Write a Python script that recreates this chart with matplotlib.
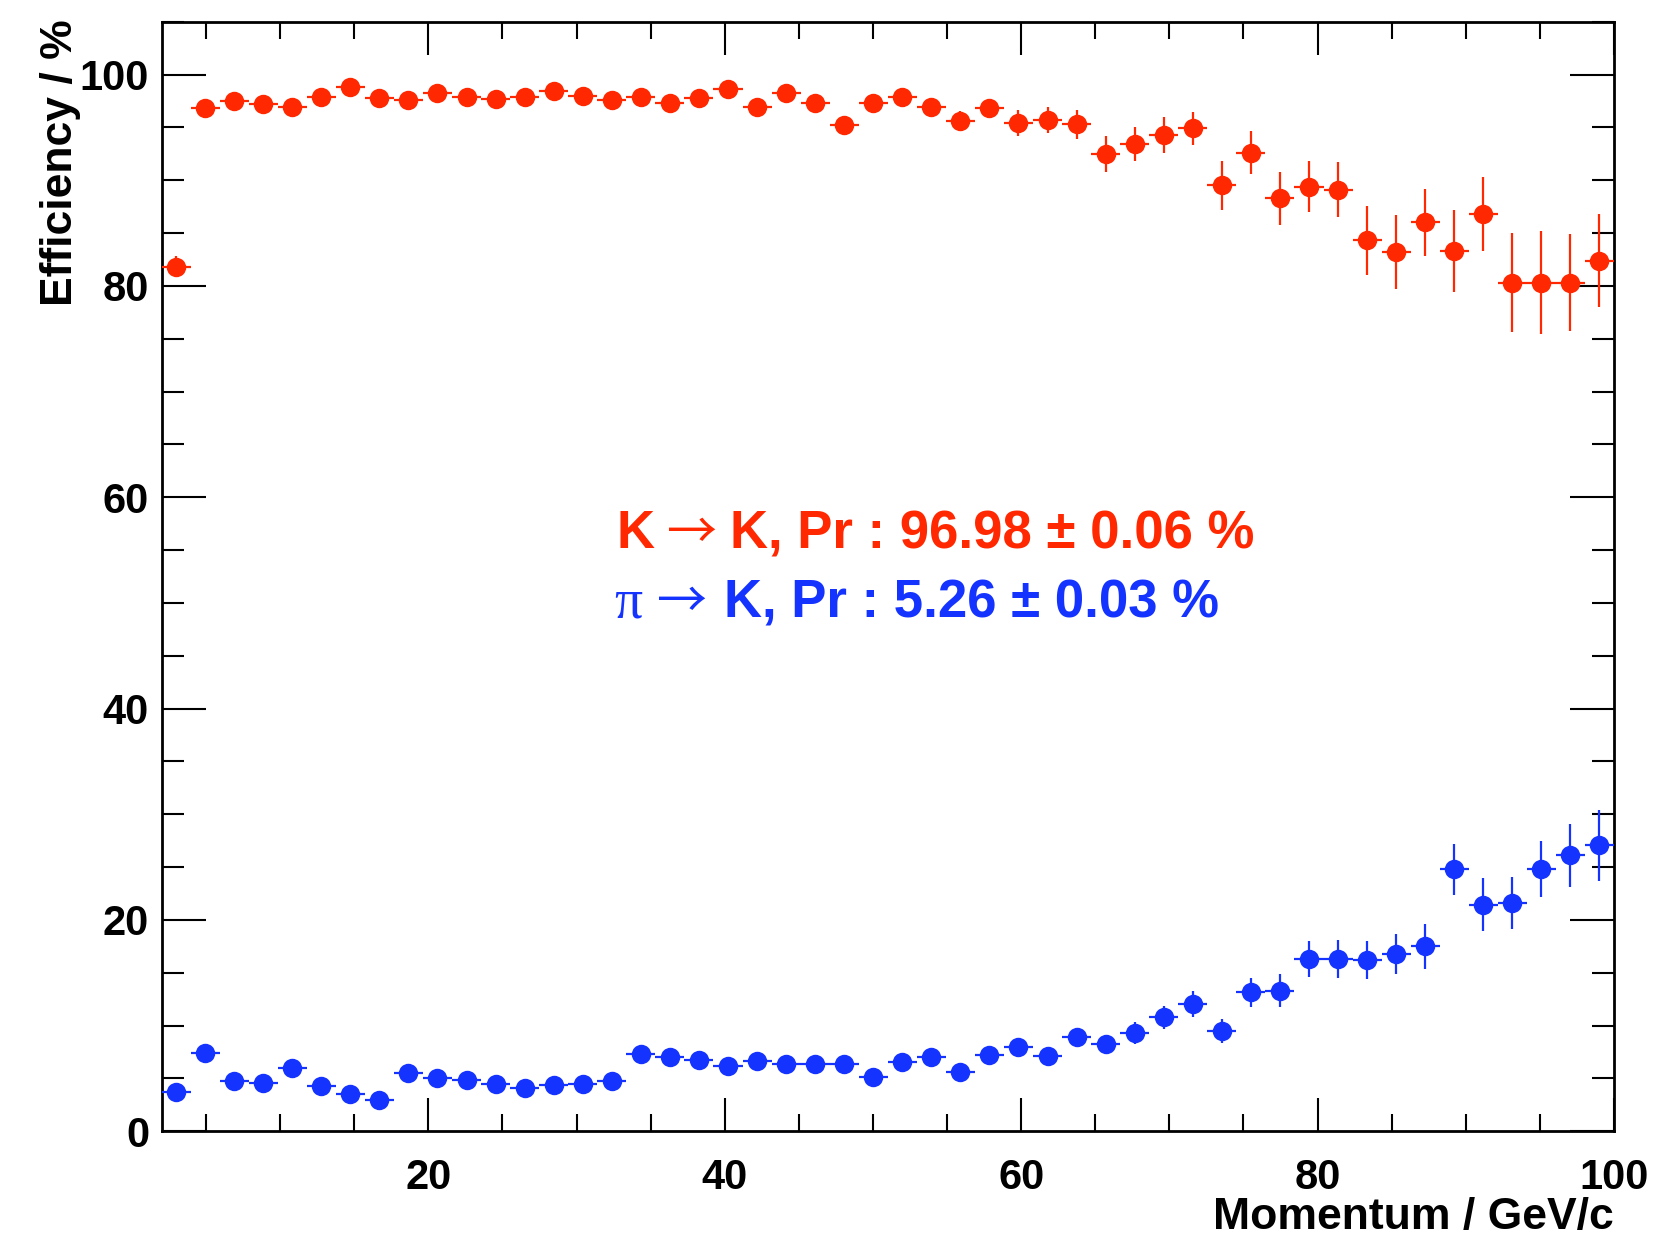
import numpy as np
import matplotlib
matplotlib.use('Agg')
import matplotlib.pyplot as plt
from matplotlib.ticker import MultipleLocator

# ---------------- data ----------------
momentum_min = 2.0
momentum_max = 100.0
n_bins = 50

kaon_eff = [81.8, 96.8, 97.5, 97.2, 96.9, 97.9, 98.8, 97.8, 97.6, 98.3,
            97.9, 97.7, 97.9, 98.4, 98.0, 97.6, 97.9, 97.3, 97.8, 98.6,
            96.9, 98.3, 97.3, 95.2, 97.3, 97.9, 96.9, 95.6, 96.8, 95.4,
            95.7, 95.3, 92.5, 93.4, 94.3, 94.9, 89.5, 92.6, 88.3, 89.4,
            89.1, 84.3, 83.2, 86.0, 83.3, 86.8, 80.3, 80.3, 80.3, 82.4]
kaon_err = [1.0, 0.5, 0.4, 0.4, 0.4, 0.4, 0.35, 0.4, 0.4, 0.4,
            0.4, 0.4, 0.45, 0.4, 0.45, 0.45, 0.45, 0.5, 0.5, 0.45,
            0.55, 0.5, 0.6, 0.8, 0.7, 0.75, 0.8, 0.95, 0.88, 1.23,
            1.21, 1.37, 1.7, 1.6, 1.7, 1.6, 2.3, 2.05, 2.5, 2.4,
            2.6, 3.3, 3.5, 3.2, 3.9, 3.5, 4.7, 4.85, 4.6, 4.4]

pion_eff = [3.7, 7.4, 4.8, 4.6, 6.0, 4.3, 3.5, 3.0, 5.5, 5.0,
            4.9, 4.5, 4.1, 4.4, 4.5, 4.8, 7.3, 7.0, 6.75, 6.15,
            6.65, 6.4, 6.4, 6.35, 5.1, 6.6, 7.05, 5.65, 7.25, 7.95,
            7.1, 8.9, 8.3, 9.3, 10.8, 12.0, 9.5, 13.15, 13.3, 16.3,
            16.3, 16.2, 16.75, 17.5, 24.8, 21.45, 21.6, 24.8, 26.1, 27.05]
pion_err = [0.3, 0.45, 0.35, 0.35, 0.4, 0.35, 0.35, 0.3, 0.4, 0.4,
            0.4, 0.4, 0.4, 0.4, 0.4, 0.4, 0.5, 0.5, 0.5, 0.5,
            0.5, 0.55, 0.55, 0.6, 0.6, 0.65, 0.7, 0.65, 0.75, 0.8,
            0.8, 0.85, 0.85, 1.0, 1.1, 1.23, 1.17, 1.37, 1.55, 1.73,
            1.81, 1.78, 1.9, 2.1, 2.43, 2.48, 2.43, 2.65, 3.0, 3.36]

kaon_label = ("K", "K, Pr : 96.98 \u00b1 0.06 %")
pion_label = ("\u03c0", "K, Pr : 5.26 \u00b1 0.03 %")

x_title = "Momentum / GeV/c"
y_title = "Efficiency / %"

# ---------------- style ----------------
W, H = 1664, 1236
DPI = 100
RED = '#ff2800'
BLUE = '#1433ff'
SANS = ['Liberation Sans', 'DejaVu Sans']

edges = np.linspace(momentum_min, momentum_max, n_bins + 1)
centers = 0.5 * (edges[:-1] + edges[1:])
half_w = 0.5 * (edges[1:] - edges[:-1])

fig = plt.figure(figsize=(W / DPI, H / DPI), dpi=DPI)
left, right = 161.5 / W, 1614 / W
top, bottom = 1 - 21.7 / H, 1 - 1131.3 / H
ax = fig.add_axes([left, bottom, right - left, top - bottom])

for y, e, c in [(kaon_eff, kaon_err, RED), (pion_eff, pion_err, BLUE)]:
    ax.errorbar(centers, y, yerr=e, xerr=half_w, fmt='o', color=c,
                markersize=14.0, elinewidth=1.6, capsize=0, markeredgewidth=0,
                zorder=3)

ax.set_xlim(momentum_min, momentum_max)
ax.set_ylim(0, 105)
ax.xaxis.set_major_locator(MultipleLocator(20))
ax.xaxis.set_minor_locator(MultipleLocator(5))
ax.yaxis.set_major_locator(MultipleLocator(20))
ax.yaxis.set_minor_locator(MultipleLocator(5))

for s in ax.spines.values():
    s.set_linewidth(2.0)

ax.tick_params(axis='x', which='major', direction='in', length=23.8, width=1.5,
               top=True, bottom=True, pad=19)
ax.tick_params(axis='x', which='minor', direction='in', length=11.9, width=1.5,
               top=True, bottom=True)
ax.tick_params(axis='y', which='major', direction='in', length=31.7, width=1.5,
               left=True, right=True, pad=9)
ax.tick_params(axis='y', which='minor', direction='in', length=15.8, width=1.5,
               left=True, right=True)

for lab in ax.get_xticklabels() + ax.get_yticklabels():
    lab.set_fontfamily(SANS)
    lab.set_fontweight('bold')
    lab.set_fontsize(30)

ax.set_xlabel(x_title, fontsize=32, fontweight='bold', family=SANS)
ax.xaxis.label.set_ha('right')
ax.xaxis.label.set_va('baseline')
ax.xaxis.set_label_coords(1.0, -(1229 - 1131.3) / (1131.3 - 21.7))

ax.set_ylabel(y_title, fontsize=32, fontweight='bold', family=SANS,
              rotation=90, rotation_mode='anchor')
ax.yaxis.label.set_ha('right')
ax.yaxis.label.set_va('baseline')
ax.yaxis.set_label_coords((72 - 161.5) / (1614 - 161.5), (1131.3 - 19) / (1131.3 - 21.7))

# ---------------- annotation text ----------------
renderer = fig.canvas.get_renderer()


def write_line(x_px, base_px, parts, color):
    x = x_px
    for txt, fam, weight, size, gap in parts:
        t = fig.text(x / W, 1 - base_px / H, txt, color=color, fontsize=size,
                     family=fam, fontweight=weight, ha='left', va='baseline')
        bb = t.get_window_extent(renderer)
        x = bb.x1 + gap


ARROW = '\u2192'
ARROW_FONT = ['Noto Sans CJK JP', 'DejaVu Sans']
write_line(617, 548.5, [
    (kaon_label[0], SANS, 'bold', 38, 12),
    (ARROW, ARROW_FONT, 'normal', 36, 13),
    (kaon_label[1], SANS, 'bold', 38, 0),
], RED)
write_line(614, 617, [
    (pion_label[0], ['Liberation Serif', 'DejaVu Serif'], 'normal', 40, 15),
    (ARROW, ARROW_FONT, 'normal', 36, 17),
    (pion_label[1], SANS, 'bold', 38, 0),
], BLUE)

fig.savefig('out.png', dpi=DPI)
